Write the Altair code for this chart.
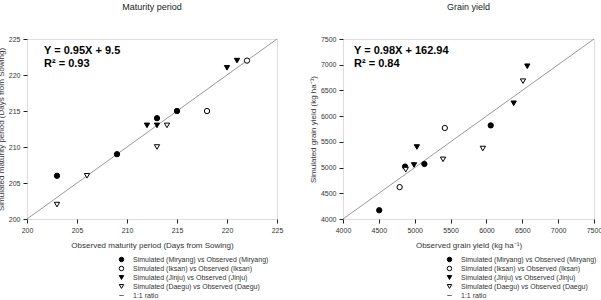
import altair as alt
import pandas as pd

FONT = "Liberation Sans"

series_names = [
    "Simulated (Miryang) vs Observed (Miryang)",
    "Simulated (Iksan) vs Observed (Iksan)",
    "Simulated (Jinju) vs Observed (Jinju)",
    "Simulated (Daegu) vs Observed (Daegu)",
    "1:1 ratio",
]

# Maturity period (days from sowing)
mat_mir_x = [213, 215, 209, 203]
mat_mir_y = [214, 215, 209, 206]
mat_iks_x = [222, 218]
mat_iks_y = [222, 215]
mat_jin_x = [220, 221, 212, 213]
mat_jin_y = [221, 222, 213, 213]
mat_dae_x = [214, 213, 206, 203]
mat_dae_y = [213, 210, 206, 202]
mat_ticks = [200, 205, 210, 215, 220, 225]

# Grain yield (kg/ha)
gy_mir_x = [4505, 4865, 5135, 6060]
gy_mir_y = [4170, 5020, 5070, 5820]
gy_iks_x = [4790, 5420]
gy_iks_y = [4620, 5770]
gy_jin_x = [5030, 4990, 6380, 6570]
gy_jin_y = [5400, 5050, 6250, 6970]
gy_dae_x = [4875, 5395, 5950, 6510]
gy_dae_y = [4960, 5160, 5370, 6680]
gy_ticks = [4000, 4500, 5000, 5500, 6000, 6500, 7000, 7500]


def make_df(xs, ys):
    rows = []
    for name, xv, yv in zip(series_names[:4], xs, ys):
        for a, b in zip(xv, yv):
            rows.append({"obs": a, "sim": b, "series": name})
    return pd.DataFrame(rows)


def panel(df, ticks, title, xtitle, ytitle, eq_text, eqx, legx, w):
    lo, hi = ticks[0], ticks[-1]
    xs = alt.Scale(domain=[lo, hi], nice=False, zero=False)
    ys = alt.Scale(domain=[lo, hi], nice=False, zero=False)
    axis_common = dict(
        values=ticks, format="d", grid=False, tickSize=4, tickColor="#222",
        domain=False, labelFontSize=7, labelColor="#333", labelFont=FONT,
        titleFont=FONT, titleFontSize=8, titleFontWeight="normal",
        titleColor="#333", labelPadding=3, labelOverlap=False,
        labelFlush=False, labelBound=False,
    )
    xaxis = alt.Axis(title=xtitle, titlePadding=8, **axis_common)
    yaxis = alt.Axis(title=ytitle, titlePadding=3, **axis_common)
    line_df = pd.DataFrame({"obs": [lo, hi], "sim": [lo, hi]})
    line = alt.Chart(line_df).mark_line(color="#999", strokeWidth=1).encode(
        x=alt.X("obs:Q", scale=xs, axis=xaxis),
        y=alt.Y("sim:Q", scale=ys, axis=yaxis),
    )
    legend = alt.Legend(
        title=None, orient="none", legendX=legx, legendY=217, padding=0,
        labelFontSize=7, labelFont=FONT, labelColor="#333",
        symbolSize=20, rowPadding=0, labelOffset=8, symbolStrokeWidth=1,
    )
    pts = alt.Chart(df).mark_point(size=28, strokeWidth=1, opacity=1).encode(
        x=alt.X("obs:Q", scale=xs, axis=xaxis),
        y=alt.Y("sim:Q", scale=ys, axis=yaxis),
        shape=alt.Shape("series:N", scale=alt.Scale(
            domain=series_names,
            range=["circle", "circle", "triangle-down", "triangle-down", "stroke"]),
            legend=legend),
        fill=alt.Fill("series:N", scale=alt.Scale(
            domain=series_names,
            range=["#000", "#fff", "#000", "#fff", "transparent"]),
            legend=legend),
        stroke=alt.Stroke("series:N", scale=alt.Scale(
            domain=series_names,
            range=["#000", "#000", "#000", "#000", "#666"]),
            legend=legend),
    )
    eq_df = pd.DataFrame({"t": [eq_text]})
    eq = alt.Chart(eq_df).mark_text(
        font=FONT, fontSize=11, fontWeight="bold", align="left",
        baseline="top", color="#000", lineBreak="\n", lineHeight=13,
    ).encode(
        text="t:N",
        x=alt.value(eqx),
        y=alt.value(6),
    )
    return alt.layer(line, pts, eq).properties(
        width=w, height=180,
        title=alt.TitleParams(title, fontSize=9, font=FONT, fontWeight="normal",
                              color="#222", offset=23),
    )


left = panel(make_df([mat_mir_x, mat_iks_x, mat_jin_x, mat_dae_x],
                     [mat_mir_y, mat_iks_y, mat_jin_y, mat_dae_y]),
             mat_ticks, "Maturity period",
             "Observed maturity period (Days from Sowing)",
             "Simulated maturity period (Days from Sowing)",
             "Y = 0.95X + 9.5\nR\u00b2 = 0.93", 17, 91, 250)

right = panel(make_df([gy_mir_x, gy_iks_x, gy_jin_x, gy_dae_x],
                      [gy_mir_y, gy_iks_y, gy_jin_y, gy_dae_y]),
              gy_ticks, "Grain yield",
              "Observed grain yield (kg ha\u207b\u00b9)",
              "Simulated grain yield (kg ha\u207b\u00b9)",
              "Y = 0.98X + 162.94\nR\u00b2 = 0.84", 11, 103, 251)

chart = alt.hconcat(left, right, spacing=24).resolve_scale(
    shape="independent", fill="independent", stroke="independent",
    x="independent", y="independent",
).resolve_legend(
    shape="independent", fill="independent", stroke="independent",
).configure_view(stroke="#222", strokeWidth=1).configure_axis(
    labelOverlap=False, labelFlush=False, labelBound=False,
).configure(
    padding={"left": -4, "top": 2, "right": -2, "bottom": 0},
    background="white",
)

chart.save("out.html", embed_options={"renderer": "svg", "actions": False})
